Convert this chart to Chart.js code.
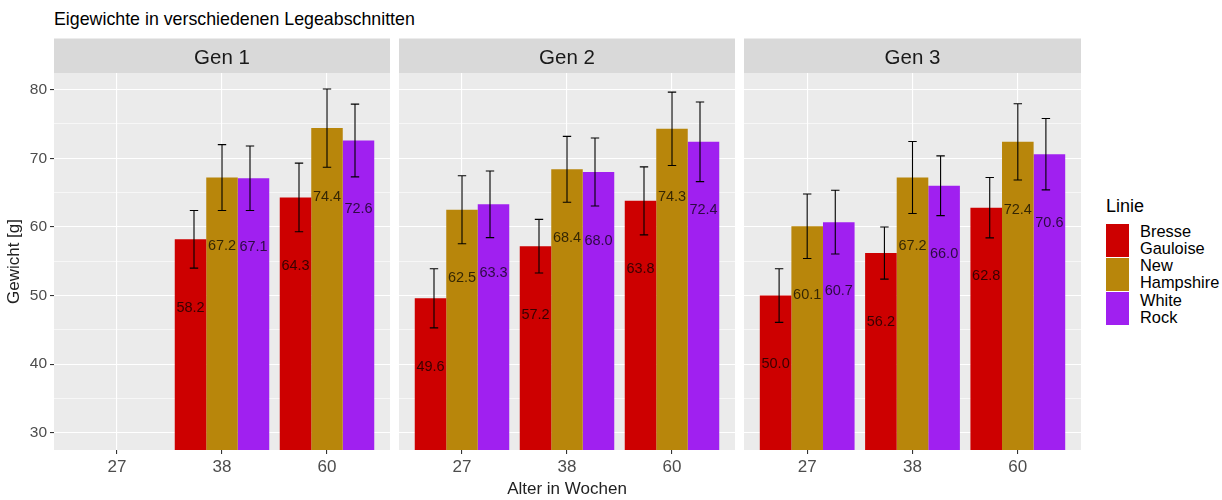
<!DOCTYPE html>
<html>
<head>
<meta charset="utf-8">
<script src="https://cdn.jsdelivr.net/npm/chart.js@4.4.0/dist/chart.umd.min.js"></script>
<style>
  body { margin: 0; background: #fff; font-family: "Liberation Sans", Arial, sans-serif; }
  #wrap { position: relative; width: 1222px; height: 500px; }
  canvas { position: absolute; top: 0; }
  #title { position: absolute; left: 54px; top: 9px; font-size: 17.8px; color: #000; }
  #legend { position: absolute; left: 1106px; top: 196px; color: #000; }
  #legend .ttl { font-size: 18px; margin-bottom: 6px; }
  #legend .row { display: flex; align-items: center; height: 34.3px; }
  #legend .key { width: 23px; height: 33px; margin-right: 11px; }
  #legend .lbl { font-size: 16.4px; line-height: 17px; }
</style>
</head>
<body>
<div id="wrap">
  <div id="title">Eigewichte in verschiedenen Legeabschnitten</div>
  <canvas id="gen1" width="390" height="500" style="left:0px"></canvas>
  <canvas id="gen2" width="336" height="500" style="left:399px"></canvas>
  <canvas id="gen3" width="337" height="500" style="left:744px"></canvas>
  <div id="legend"></div>
</div>
<script>
// Alter in Wochen (x categories) and facet labels
const ages = ['27', '38', '60'];
const generations = ['Gen 1', 'Gen 2', 'Gen 3'];
const lines = ['Bresse\nGauloise', 'New\nHampshire', 'White\nRock'];
const colors = ['#CD0000', '#B8860B', '#A020F0'];
const weightTicks = [30, 35, 40, 45, 50, 55, 60, 65, 70, 75, 80];

// mean egg weight per generation (rows) and age (columns)
const bresseMean = [[null, 58.2, 64.3], [49.6, 57.2, 63.8], [50.0, 56.2, 62.8]];
const hampshireMean = [[null, 67.2, 74.4], [62.5, 68.4, 74.3], [60.1, 67.2, 72.4]];
const whiteRockMean = [[null, 67.1, 72.6], [63.3, 68.0, 72.4], [60.7, 66.0, 70.6]];

// standard deviation (error bar half height)
const bresseSd = [[null, 4.2, 5.0], [4.3, 3.9, 4.95], [3.9, 3.8, 4.4]];
const hampshireSd = [[null, 4.8, 5.7], [4.95, 4.8, 5.35], [4.7, 5.25, 5.55]];
const whiteRockSd = [[null, 4.7, 5.3], [4.85, 4.95, 5.8], [4.65, 4.35, 5.2]];

const means = [bresseMean, hampshireMean, whiteRockMean];
const sds = [bresseSd, hampshireSd, whiteRockSd];

const FONT = '"Liberation Sans", Arial, sans-serif';
Chart.defaults.font.family = FONT;

const facetPlugin = {
    id: 'facet',
    beforeDraw(chart, args, opts) {
        const { ctx, chartArea: a } = chart;
        ctx.save();
        ctx.fillStyle = '#EBEBEB';
        ctx.fillRect(a.left, a.top, a.right - a.left, a.bottom - a.top);
        ctx.fillStyle = '#D9D9D9';
        ctx.fillRect(a.left, 38.5, a.right - a.left, a.top - 38.5);
        ctx.fillStyle = '#1A1A1A';
        ctx.font = '20.5px ' + FONT;
        ctx.textAlign = 'center';
        ctx.textBaseline = 'middle';
        ctx.fillText(opts.label, (a.left + a.right) / 2, (38.5 + a.top) / 2 + 2.5);
        ctx.restore();
    },
    afterDatasetsDraw(chart) {
        const { ctx } = chart;
        const xs = chart.scales.x, ys = chart.scales.y;
        ctx.save();
        ctx.beginPath();
        ctx.rect(chart.chartArea.left, chart.chartArea.top, chart.chartArea.right - chart.chartArea.left, chart.chartArea.bottom - chart.chartArea.top);
        ctx.clip();
        chart.data.datasets.forEach((ds, i) => {
            ds.data.forEach((pt, j) => {
                if (pt.y == null) return;
                // error bars, dodged with width 0.8
                const ex = xs.getPixelForValue(pt.x + (i - 1) * 0.8 / 3);
                const cap = xs.getPixelForValue(pt.x + 0.04) - xs.getPixelForValue(pt.x);
                const top = ys.getPixelForValue(pt.y + ds.sd[j]);
                const bot = ys.getPixelForValue(pt.y - ds.sd[j]);
                ctx.strokeStyle = '#000';
                ctx.lineWidth = 1.1;
                ctx.beginPath();
                ctx.moveTo(ex, top); ctx.lineTo(ex, bot);
                ctx.moveTo(ex - cap, top); ctx.lineTo(ex + cap, top);
                ctx.moveTo(ex - cap, bot); ctx.lineTo(ex + cap, bot);
                ctx.stroke();
            });
        });
        chart.data.datasets.forEach((ds, i) => {
            const meta = chart.getDatasetMeta(i);
            ds.data.forEach((pt, j) => {
                if (pt.y == null) return;
                ctx.fillStyle = 'rgba(0,0,0,0.72)';
                ctx.font = '14.5px ' + FONT;
                ctx.textAlign = 'center';
                ctx.textBaseline = 'middle';
                ctx.fillText(pt.y.toFixed(1), meta.data[j].x, ys.getPixelForValue(pt.y - 10));
            });
        });
        ctx.restore();
    }
};

function makeChart(id, g) {
    const first = g === 0;
    const datasets = lines.map((name, i) => ({
        label: name,
        data: ages.map((a, j) => ({ x: j + 1, y: means[i][g][j] })),
        sd: sds[i][g],
        backgroundColor: colors[i],
        categoryPercentage: 0.9,
        barPercentage: 1.0
    }));
    return new Chart(document.getElementById(id), {
        type: 'bar',
        data: { datasets },
        plugins: [facetPlugin],
        options: {
            responsive: false,
            animation: false,
            devicePixelRatio: 1,
            layout: { padding: { top: 73, left: 0, right: 0, bottom: 0 } },
            plugins: {
                legend: { display: false },
                tooltip: { enabled: false },
                facet: { label: generations[g] }
            },
            scales: {
                x: {
                    type: 'linear',
                    min: 0.4,
                    max: 3.6,
                    offset: false,
                    afterBuildTicks: s => { s.ticks = ages.map((a, j) => ({ value: j + 1 })); },
                    afterFit: s => { s.height = 50; },
                    grid: { offset: false, color: '#FFFFFF', lineWidth: 1.1, tickColor: '#333333', tickLength: 4 },
                    border: { display: false },
                    ticks: {
                        color: '#4D4D4D',
                        font: { size: 17 },
                        padding: 3,
                        maxRotation: 0,
                        callback: v => ages[v - 1]
                    },
                    title: {
                        display: g === 1,
                        text: 'Alter in Wochen',
                        color: '#222222',
                        font: { size: 17 },
                        padding: 0
                    }
                },
                y: {
                    min: 27.5,
                    max: 82.43,
                    afterBuildTicks: s => { s.ticks = weightTicks.map(v => ({ value: v })); },
                    afterFit: s => { s.width = first ? 54 : 0; },
                    grid: {
                        color: '#FFFFFF',
                        lineWidth: c => (c.tick && c.tick.value % 10 === 0 ? 1.1 : 0.6),
                        drawTicks: first,
                        tickLength: 4,
                        tickColor: c => (c.tick && c.tick.value % 10 === 0 ? '#333333' : 'rgba(0,0,0,0)')
                    },
                    border: { display: false },
                    ticks: {
                        display: first,
                        color: '#4D4D4D',
                        font: { size: 15.5 },
                        padding: 3,
                        callback: v => (v % 10 === 0 ? v : '')
                    },
                    title: {
                        display: first,
                        text: 'Gewicht [g]',
                        color: '#222222',
                        font: { size: 17 },
                        padding: { top: 4, bottom: 0 }
                    }
                }
            }
        }
    });
}

makeChart('gen1', 0);
makeChart('gen2', 1);
makeChart('gen3', 2);

// legend
const legend = document.getElementById('legend');
legend.innerHTML = '<div class="ttl">Linie</div>' + lines.map((name, i) =>
    `<div class="row"><div class="key" style="background:${colors[i]}"></div><div class="lbl">${name.replace('\n', '<br>')}</div></div>`
).join('');
</script>
</body>
</html>
